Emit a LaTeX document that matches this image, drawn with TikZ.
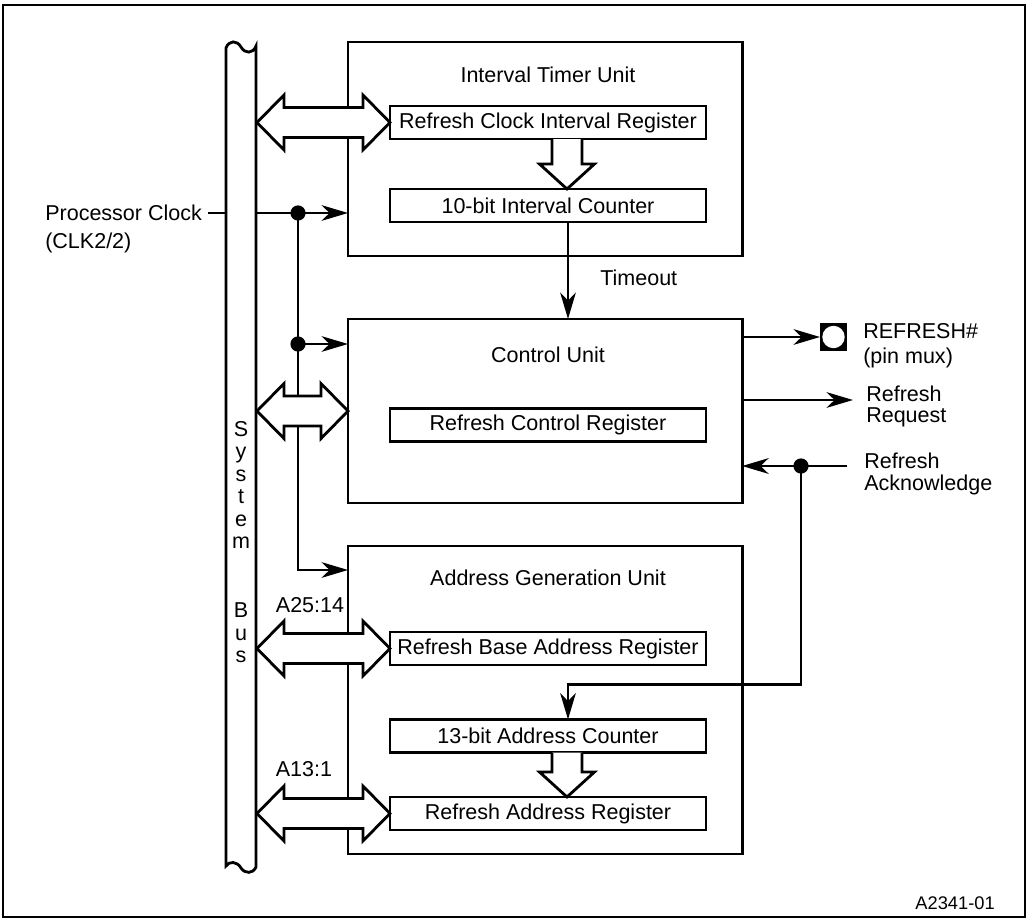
\documentclass[tikz,border=0pt]{standalone}
\usepackage{fontspec}
\setmainfont{Liberation Sans}
\usetikzlibrary{arrows.meta, calc, positioning}

\newcommand{\busarrow}[2]{%
	\filldraw[fill=white, line width=2pt, line join=miter]
		(#1) -- ++(27,-27.5) -- ++(0,12.5) -- ($(#2)+(-27,-15)$) -- ++(0,-12.5) -- (#2)
		-- ++(-27,27.5) -- ++(0,-12.5) -- ($(#1)+(27,15)$) -- ++(0,12.5) -- cycle;}
\newcommand{\hollowarrow}[2]{%
	\filldraw[fill=white, line width=2pt, line join=miter]
		($(#1.south)+(4,0)$) -- ($(#2.north)+(4,-25)$) -- ++(-12.5,0) -- ($(#2.north)+(19,0)$)
		-- ++(27.5,-25) -- ++(-12.5,0) -- ($(#1.south)+(34,0)$);}

\begin{document}
\begin{tikzpicture}[
		x=0.025cm, y=-0.025cm,
		font=\fontsize{15.3}{17}\selectfont,
		unit/.style={draw, line width=2pt, anchor=north west, minimum width=9.85cm, inner sep=0pt, outer sep=0pt},
		register/.style={draw, line width=2pt, minimum width=7.9cm, minimum height=0.825cm, inner sep=0pt, outer sep=0pt},
		sidetext/.style={anchor=west, align=left, inner sep=0pt},
		wire/.style={line width=2pt, -{Stealth[length=0.66cm, width=0.39cm, inset=0.2cm]}},
		dot/.style={circle, fill, inner sep=0pt, minimum size=0.38cm}
		]
		\path[use as bounding box] (0,0) rectangle (1028,920);
		\draw[line width=1.5pt] (3,5) rectangle (1025,917);

		% units and registers
		\node (timer) at (348,42) [unit, minimum height=5.35cm] {};
		\node (control) at (348,319) [unit, minimum height=4.6cm] {};
		\node (addr) at (348,546) [unit, minimum height=7.7cm] {};
		\node (timer title) at (548,75) {Interval Timer Unit};
		\node (control title) at (548,355) {Control Unit};
		\node (addr title) at (548,578) {Address Generation Unit};
		\node (rcir) at (548,122.5) [register] {Refresh Clock Interval Register};
		\node (counter) at (548,205.5) [register] {10-bit Interval Counter};
		\node (rcr) at (548,425) [register] {Refresh Control Register};
		\node (rbar) at (548,648.5) [register] {Refresh Base Address Register};
		\node (acount) at (548,736) [register] {13-bit Address Counter};
		\node (rar) at (548,813.5) [register] {Refresh Address Register};

		% clock
		\node (clk) at (45,229) [sidetext, font=\fontsize{15.3}{20}\selectfont] {Processor Clock\\(CLK2/2)};
		\coordinate (clk in) at (208,213);
		\coordinate (tap1) at (298,213);
		\coordinate (tap2) at (298,344);
		\coordinate (tap3) at (298,570);
		\draw[wire] (clk in) -- (clk in -| timer.west);
		\draw[wire] (tap1) |- (tap3 -| addr.west);
		\draw[wire] (tap2) -- (tap2 -| control.west);

		% system bus
		\draw[line width=2pt, fill=white] (226,48) .. controls (229,40) and (237,40) .. (241,47)
			.. controls (245,54) and (253,54) .. (256,46) -- (256,867)
			.. controls (253,874) and (245,874) .. (241,868)
			.. controls (237,861) and (229,861) .. (226,866) -- cycle;
		\node (bus label) at (241,421) [anchor=north, align=center, inner sep=0pt, font=\fontsize{15.3}{16}\selectfont]
			{S\\y\\s\\t\\e\\m\\[33pt]B\\u\\s};
		\coordinate (bus side) at (257,0);

		\busarrow{bus side |- rcir.west}{rcir.west}
		\busarrow{bus side |- control.west}{control.west}
		\busarrow{bus side |- rbar.west}{rbar.west}
		\busarrow{bus side |- rar.west}{rar.west}
		\hollowarrow{rcir}{counter}
		\hollowarrow{acount}{rar}
		\node (dot1) at (tap1) [dot] {};
		\node (dot2) at (tap2) [dot] {};
		\node (hi addr) at (310,605) {A25:14};
		\node (lo addr) at (304,769) {A13:1};

		% timeout
		\draw[wire] ([xshift=0.5cm]counter.south) -- ([xshift=0.5cm]counter.south |- control.north);
		\node (timeout) at (600,278) [sidetext] {Timeout};

		% outputs
		\node (pinsq) at (833.5,337) [fill, minimum size=0.675cm, inner sep=0pt, outer sep=0pt] {};
		\node (pinc) at (pinsq) [circle, fill=white, minimum size=0.56cm, inner sep=0pt] {};
		\draw[wire] (control.east |- pinsq) -- (pinsq.west);
		\node (refresh pin) at (863,346) [sidetext, font=\fontsize{15.3}{17.8}\selectfont] {REFRESH\#\\(pin mux)};
		\coordinate (req out) at (853,400);
		\draw[wire] (control.east |- req out) -- (req out);
		\node (request) at (866,406.5) [sidetext, font=\fontsize{15.3}{15}\selectfont] {Refresh\\Request};
		\coordinate (ack in) at (847,466);
		\draw[wire] (ack in) -- (ack in -| control.east);
		\node (dot3) at (801,466) [dot] {};
		\draw[wire] (dot3.center) |- ([xshift=0.5cm, yshift=0.875cm]acount.north) -- ([xshift=0.5cm]acount.north);
		\node (ack) at (864,474) [sidetext, font=\fontsize{15.3}{15.6}\selectfont] {Refresh\\Acknowledge};

		\node (fig id) at (995,903) [anchor=east, inner sep=0pt, font=\fontsize{13}{15}\selectfont] {A2341-01};
	\end{tikzpicture}
\end{document}
